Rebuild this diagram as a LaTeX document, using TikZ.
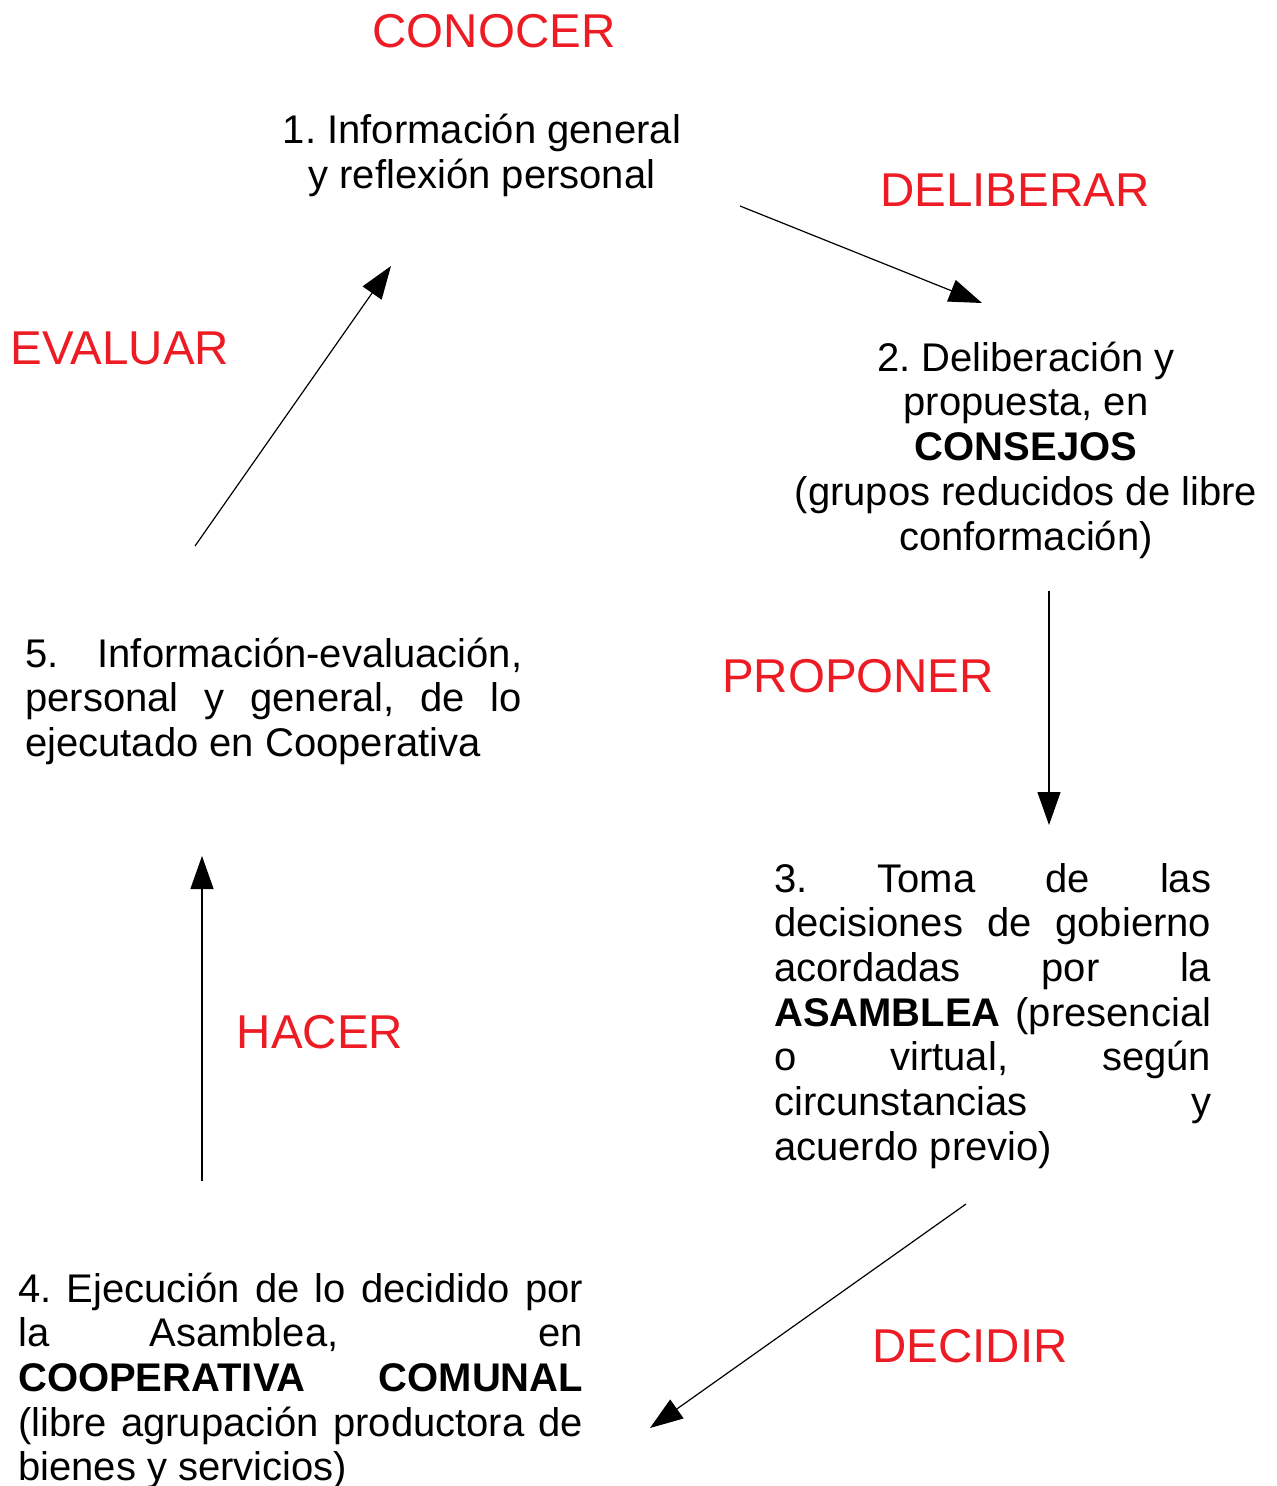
\documentclass[tikz,border=0pt]{standalone}
\usepackage{fontspec}
\setmainfont{Liberation Sans}
\usetikzlibrary{arrows.meta}
\definecolor{stepred}{RGB}{237,28,36}
\newcommand{\stagefont}[0]{\fontsize{47.5}{55}\selectfont}
\newcommand{\bodyfont}[0]{\fontsize{40}{44.7}\selectfont\frenchspacing}

\begin{document}
\begin{tikzpicture}[x=1pt,y=-1pt]
  \tikzset{
    stage/.style={text=stepred,font=\stagefont,inner sep=0pt,anchor=base},
    stepbox/.style={font=\bodyfont,inner sep=0pt,anchor=base},
    flow/.style={line width=1.2pt,-{Triangle[length=33pt,width=23pt]}}
  }
  \useasboundingbox (0,0) rectangle (1277,1486);
  \node[stage] (conocer) at (494,47) {CONOCER};
  \node[stage] (deliberar) at (1015,206) {DELIBERAR};
  \node[stage] (evaluar) at (120,364) {EVALUAR};
  \node[stage] (proponer) at (858,692) {PROPONER};
  \node[stage] (hacer) at (320,1048) {HACER};
  \node[stage] (decidir) at (970,1362) {DECIDIR};
  \node[stepbox,align=center] (info) at (482,188)
    {1. Información general\\y reflexión personal};
  \node[stepbox,align=center] (consejos) at (1026,550)
    {2. Deliberación y\\propuesta, en\\\textbf{CONSEJOS}\\(grupos reducidos de libre\\conformación)};
  \node[stepbox,anchor=base west,text width=437pt,align=justify] (asamblea) at (774,892)
    {3. Toma de las\linebreak decisiones de gobierno\linebreak acordadas por la\linebreak
     \textbf{ASAMBLEA} (presencial\linebreak o virtual, según\linebreak
     circunstancias y\linebreak acuerdo previo)};
  \node[stepbox,anchor=base west,text width=565pt,align=justify] (cooperativa) at (18,1302)
    {4. Ejecución de lo decidido por\linebreak la Asamblea,\ \ en\linebreak
     \textbf{COOPERATIVA COMUNAL}\linebreak (libre agrupación productora de\linebreak
     bienes y servicios)};
  \node[stepbox,anchor=base west,text width=497pt,align=justify] (evaluacion) at (25,667)
    {5. Información-evaluación,\linebreak personal y general, de lo\linebreak
     ejecutado en Cooperativa};
  \coordinate (infoout) at (740,206);
  \coordinate (consejosin) at (982,303);
  \coordinate (consejosout) at (1049,591);
  \coordinate (asambleain) at (1049,825);
  \coordinate (asambleaout) at (966,1204);
  \coordinate (cooperativain) at (650,1428);
  \coordinate (cooperativaout) at (202,1181);
  \coordinate (evaluacionin) at (202,856);
  \coordinate (evaluacionout) at (195,546);
  \coordinate (infoin) at (391,266);
  \draw[flow] (infoout) -- (consejosin);
  \draw[flow] (consejosout) -- (asambleain);
  \draw[flow] (asambleaout) -- (cooperativain);
  \draw[flow] (cooperativaout) -- (evaluacionin);
  \draw[flow] (evaluacionout) -- (infoin);
\end{tikzpicture}
\end{document}
